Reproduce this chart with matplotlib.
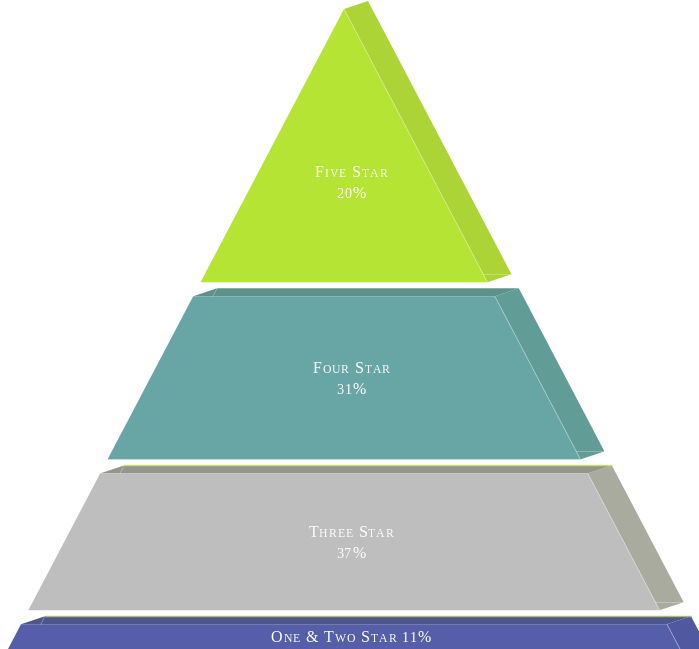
import numpy as np
import matplotlib
matplotlib.use("Agg")
import matplotlib.pyplot as plt
from matplotlib.patches import Polygon
from matplotlib.font_manager import FontProperties

# ---- data ----
categories = ["Five Star", "Four Star", "Three Star", "One & Two Star"]
values = [20, 31, 37, 11]
label_two_lines = [True, True, True, False]

# ---- colours per slice ----
front_colors = ["#b6e434", "#68a6a6", "#bebebe", "#555ea8"]
side_colors = ["#acd436", "#629c96", "#a9ab9f", "#5059a0"]
top_colors = ["#acd436", "#5e9188", "#94968c", "#4e568e"]
top_edge_colors = [None, None, "#c9de6e", "#a7bd6a"]

W, H = 699, 649
fig = plt.figure(figsize=(W / 100, H / 100), dpi=100)
ax = fig.add_axes([0, 0, 1, 1])
ax.set_xlim(0, W)
ax.set_ylim(H, 0)
ax.axis("off")

# ---- pyramid geometry (pixel units) ----
apex_x, apex_y = 344.0, 9.0
total_h = 608.0          # height of the stacked slices, gaps excluded
gap = 14.0
slope = 0.525            # half-width growth per pixel of height
dx, dy = 24.0, -8.0      # 3D depth offset

# slice boundaries: front-face area proportional to value
frac = np.sqrt(np.cumsum(values) / np.sum(values))
bounds = np.concatenate([[0.0], frac]) * total_h


def hw(y):
    return slope * (y - apex_y)


edge_kw = dict(color="white", alpha=0.28, lw=0.7, zorder=5)

slices = []
for i, v in enumerate(values):
    y0 = apex_y + bounds[i] + gap * i
    y1 = apex_y + bounds[i + 1] + gap * i
    tl = (apex_x - hw(y0), y0)
    tr = (apex_x + hw(y0), y0)
    br = (apex_x + hw(y1), y1)
    bl = (apex_x - hw(y1), y1)
    slices.append((y0, y1))

    # right side face
    ax.add_patch(Polygon([tr, (tr[0] + dx, tr[1] + dy), (br[0] + dx, br[1] + dy), br],
                         closed=True, fc=side_colors[i], ec="none", zorder=2))
    # top face
    if hw(y0) > 0.5:
        ax.add_patch(Polygon([tl, tr, (tr[0] + dx, tr[1] + dy), (tl[0] + dx, tl[1] + dy)],
                             closed=True, fc=top_colors[i], ec="none", zorder=2))
        if top_edge_colors[i]:
            ax.plot([tl[0] + dx, tr[0] + dx], [tl[1] + dy, tr[1] + dy],
                    color=top_edge_colors[i], lw=1.0, zorder=4, solid_capstyle="butt")
        # hidden back-left edge showing through the top face
        ax.plot([tl[0] + dx, tl[0] + dx - slope * (-dy)], [tl[1] + dy, y0], **edge_kw)
    # front face
    ax.add_patch(Polygon([tl, tr, br, bl], closed=True, fc=front_colors[i],
                         ec="none", zorder=3))
    # front-right edge and back bottom edge
    ax.plot([tr[0], br[0]], [tr[1], br[1]], **edge_kw)
    yb = y1 + dy
    ax.plot([apex_x + hw(yb), br[0] + dx], [yb, yb], **edge_kw)

# ---- labels in small caps ----
fam = ["Liberation Serif", "DejaVu Serif"]
fp_big = FontProperties(family=fam, size=11.5)
fp_small = FontProperties(family=fam, size=8.5)
fp_digit = FontProperties(family=fam, size=10.3)
renderer = fig.canvas.get_renderer()
tracking = 0.9


def advance(ch, fp):
    w1, _, _ = renderer.get_text_width_height_descent("H" + ch + "H", fp, ismath=False)
    w2, _, _ = renderer.get_text_width_height_descent("HH", fp, ismath=False)
    return w1 - w2


def runs(text):
    out = []
    for ch in text:
        if ch.islower():
            out.append((ch.upper(), fp_small))
        elif ch.isdigit():
            out.append((ch, fp_digit))
        else:
            out.append((ch, fp_big))
    return out


def smallcaps(x_center, y_base, text):
    parts = runs(text)
    widths = [advance(c, fp) for c, fp in parts]
    total = sum(widths) + tracking * (len(parts) - 1)
    x = x_center - total / 2
    for (c, fp), w in zip(parts, widths):
        ax.text(x, y_base, c, fontproperties=fp, color="white",
                ha="left", va="baseline", zorder=6)
        x += w + tracking


label_x = apex_x + 7
for i, (name, v) in enumerate(zip(categories, values)):
    y0, y1 = slices[i]
    pct = f"{v}%"
    if i == 0:
        ymid = y0 + (y1 - y0) * 0.63
    else:
        ymid = (y0 + min(y1, H)) / 2
    if label_two_lines[i]:
        smallcaps(label_x, ymid - 4.5, name)
        smallcaps(label_x, ymid + 16.5, pct)
    else:
        smallcaps(label_x, ymid + 5, f"{name} {pct}")

fig.savefig("out.png", dpi=100, facecolor="white")
